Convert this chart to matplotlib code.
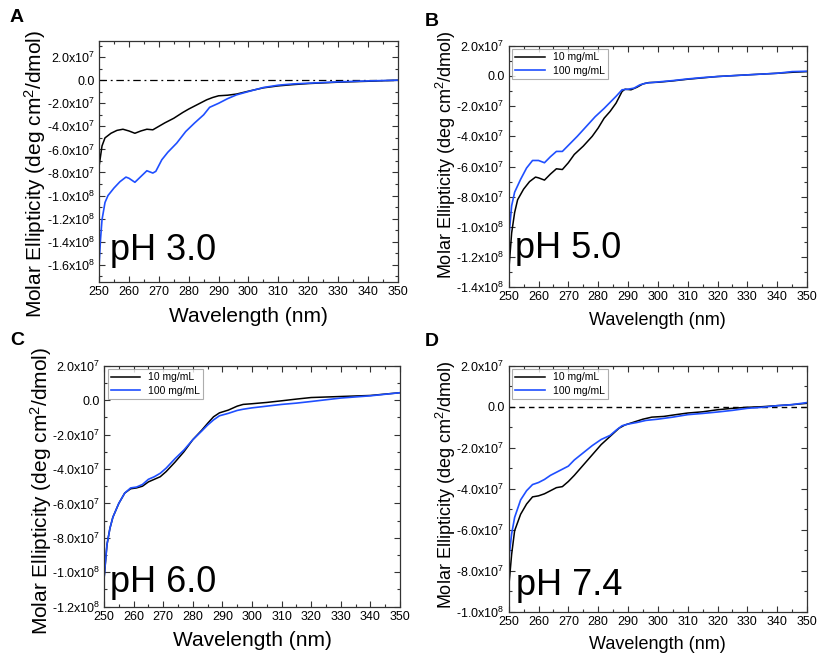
import matplotlib
matplotlib.use('Agg')
import matplotlib.pyplot as plt
from matplotlib.ticker import MultipleLocator, FuncFormatter
import numpy as np

plt.rcParams['font.family'] = ['Liberation Sans', 'DejaVu Sans']
plt.rcParams['mathtext.default'] = 'regular'

# ---- data (wavelength in nm, ellipticity in deg cm^2/dmol) ----
wl_a_10 = [250, 251, 252, 254, 256, 258, 260, 262, 264, 266, 268, 270, 272, 275, 278, 280,
           283, 286, 288, 290, 293, 296, 300, 305, 310, 315, 320, 330, 340, 350]
a_10 = [-7.5e7, -5.7e7, -5.0e7, -4.6e7, -4.35e7, -4.25e7, -4.4e7, -4.6e7, -4.4e7, -4.25e7,
        -4.3e7, -4.0e7, -3.7e7, -3.3e7, -2.8e7, -2.5e7, -2.1e7, -1.7e7, -1.5e7, -1.35e7,
        -1.3e7, -1.2e7, -9.5e6, -6.6e6, -4.9e6, -3.8e6, -2.9e6, -1.7e6, -0.9e6, 0.0]
wl_a_100 = [250, 250.5, 251, 252, 253, 255, 257, 259, 260, 262, 264, 266, 268, 269, 271, 273,
            276, 279, 282, 285, 287, 290, 293, 296, 300, 305, 310, 315, 320, 330, 340, 350]
a_100 = [-1.61e8, -1.38e8, -1.21e8, -1.06e8, -1.0e8, -9.35e7, -8.8e7, -8.4e7, -8.5e7, -8.85e7,
         -8.35e7, -7.85e7, -8.05e7, -7.9e7, -6.9e7, -6.25e7, -5.45e7, -4.45e7, -3.7e7, -3.0e7,
         -2.35e7, -2.0e7, -1.6e7, -1.27e7, -9.8e6, -6.3e6, -4.3e6, -3.2e6, -2.6e6, -1.4e6,
         -0.6e6, 0.0]

wl_b_10 = [250, 251, 252, 253, 255, 257, 259, 260, 262, 264, 266, 268, 270, 272, 275, 278,
           280, 282, 284, 286, 288, 289, 291, 293, 295, 297, 300, 305, 310, 315, 320, 330,
           340, 345, 350]
b_10 = [-1.3e8, -1.04e8, -9.05e7, -8.2e7, -7.5e7, -7.0e7, -6.7e7, -6.75e7, -6.9e7, -6.5e7,
        -6.15e7, -6.2e7, -5.75e7, -5.2e7, -4.65e7, -4.0e7, -3.45e7, -2.8e7, -2.35e7, -1.8e7,
        -1.03e7, -8.8e6, -9.2e6, -7.5e6, -5.3e6, -4.4e6, -4.2e6, -3.3e6, -2.2e6, -1.3e6,
        -0.4e6, 0.7e6, 1.75e6, 2.4e6, 2.85e6]
wl_b_100 = [250, 251, 252, 254, 256, 258, 260, 262, 264, 266, 268, 270, 273, 276, 279, 282,
            284, 286, 288, 290, 292, 294, 296, 300, 305, 310, 315, 320, 330, 340, 345, 350]
b_100 = [-1.08e8, -8.6e7, -7.7e7, -6.85e7, -6.1e7, -5.6e7, -5.6e7, -5.75e7, -5.35e7, -5.0e7,
         -5.0e7, -4.6e7, -4.0e7, -3.35e7, -2.7e7, -2.15e7, -1.75e7, -1.35e7, -9.2e6, -8.8e6,
         -8.1e6, -5.9e6, -4.8e6, -4.0e6, -3.1e6, -2.0e6, -1.1e6, -0.4e6, 0.7e6, 1.75e6,
         2.85e6, 3.1e6]

wl_c = [250, 251, 252, 253, 255, 257, 259, 261, 263, 265, 267, 269, 271, 274, 277, 280, 283,
        285, 287, 289, 292, 295, 297, 300, 305, 310, 315, 320, 330, 340, 350]
c_10 = [-1.04e8, -8.4e7, -7.45e7, -6.8e7, -6.0e7, -5.4e7, -5.15e7, -5.1e7, -5.0e7, -4.75e7,
        -4.6e7, -4.45e7, -4.15e7, -3.6e7, -3.0e7, -2.3e7, -1.75e7, -1.35e7, -9.7e6, -7.4e6,
        -5.8e6, -3.5e6, -2.5e6, -2.1e6, -1.35e6, -0.4e6, 0.6e6, 1.5e6, 2.1e6, 2.7e6, 4.3e6]
c_100 = [-1.04e8, -8.4e7, -7.45e7, -6.8e7, -6.0e7, -5.4e7, -5.1e7, -5.05e7, -4.9e7, -4.6e7,
         -4.45e7, -4.25e7, -3.95e7, -3.4e7, -2.9e7, -2.3e7, -1.8e7, -1.45e7, -1.15e7, -9.1e6,
         -7.7e6, -6.0e6, -5.3e6, -4.5e6, -3.5e6, -2.5e6, -1.75e6, -0.8e6, 1.2e6, 2.5e6, 4.3e6]

wl_d_10 = [250, 251, 252, 254, 256, 258, 260, 262, 264, 266, 268, 270, 272, 275, 278, 281,
           284, 287, 289, 292, 295, 298, 302, 306, 310, 315, 320, 325, 330, 335, 340, 345, 350]
d_10 = [-8.85e7, -7.2e7, -6.05e7, -5.25e7, -4.75e7, -4.4e7, -4.35e7, -4.25e7, -4.1e7, -3.95e7,
        -3.9e7, -3.65e7, -3.35e7, -2.85e7, -2.35e7, -1.85e7, -1.45e7, -1.05e7, -8.9e6, -7.5e6,
        -6.1e6, -5.1e6, -4.75e6, -3.9e6, -3.1e6, -2.5e6, -1.5e6, -0.8e6, -0.3e6, 0.0, 0.5e6,
        1.0e6, 1.65e6]
wl_d_100 = [250, 251, 252, 254, 256, 258, 260, 262, 264, 266, 268, 270, 272, 275, 278, 281,
            284, 286, 288, 290, 293, 296, 300, 305, 310, 315, 320, 325, 330, 335, 340, 345, 350]
d_100 = [-7.5e7, -6.2e7, -5.4e7, -4.55e7, -4.1e7, -3.8e7, -3.7e7, -3.55e7, -3.35e7, -3.2e7,
         -3.05e7, -2.9e7, -2.6e7, -2.25e7, -1.9e7, -1.6e7, -1.4e7, -1.15e7, -9.3e6, -8.5e6,
         -7.7e6, -6.7e6, -6.1e6, -5.1e6, -3.9e6, -3.3e6, -2.6e6, -1.8e6, -0.8e6, -0.3e6,
         0.5e6, 1.0e6, 2.0e6]

panel_letters = ['A', 'B', 'C', 'D']
ph_labels = ['pH 3.0', 'pH 5.0', 'pH 6.0', 'pH 7.4']
conc_labels = ['10 mg/mL', '100 mg/mL']

BLUE = '#1f4fff'
EDGE = '#333333'


def sci_fmt(v, pos):
    if abs(v) < 1:
        return '0.0'
    exp = int(np.floor(np.log10(abs(v)) + 1e-9))
    mant = v / 10 ** exp
    return '%.1fx10$^{%d}$' % (mant, exp)


def style_axes(ax, ylim, lab_size, label_x, label_y):
    ax.set_xlim(250, 350)
    ax.set_ylim(*ylim)
    ax.xaxis.set_major_locator(MultipleLocator(10))
    ax.xaxis.set_minor_locator(MultipleLocator(5))
    ax.yaxis.set_major_locator(MultipleLocator(2e7))
    ax.yaxis.set_minor_locator(MultipleLocator(1e7))
    ax.yaxis.set_major_formatter(FuncFormatter(sci_fmt))
    ax.tick_params(which='both', direction='in', top=True, right=True,
                   labelsize=9, colors=EDGE, labelcolor='black', pad=3)
    ax.tick_params(which='major', length=4, width=0.8)
    ax.tick_params(which='minor', length=2.5, width=0.8)
    for s in ax.spines.values():
        s.set_color(EDGE)
        s.set_linewidth(0.9)
    ax.set_xlabel('Wavelength (nm)', fontsize=lab_size, labelpad=6)
    ax.set_ylabel('Molar Ellipticity (deg cm$^{2}$/dmol)', fontsize=lab_size)
    ax.yaxis.set_label_coords(label_x, label_y)


fig = plt.figure(figsize=(8.17, 6.53), dpi=100)

# positions in figure fraction
ax_a = fig.add_axes([0.1212, 0.5681, 0.3659, 0.3691])
ax_b = fig.add_axes([0.6226, 0.5600, 0.3652, 0.3700])
ax_c = fig.add_axes([0.1273, 0.0709, 0.3623, 0.3691])
ax_d = fig.add_axes([0.6226, 0.0633, 0.3652, 0.3767])

# A
ax_a.axhline(0, color='black', lw=0.9, ls='-.', dashes=(6, 3, 1.5, 3))
ax_a.plot(wl_a_10, a_10, color='black', lw=1.1)
ax_a.plot(wl_a_100, a_100, color=BLUE, lw=1.2)
style_axes(ax_a, (-1.75e8, 3.4e7), 15, -0.17, 0.45)

# B
ax_b.plot(wl_b_10, b_10, color='black', lw=1.1, label=conc_labels[0])
ax_b.plot(wl_b_100, b_100, color=BLUE, lw=1.2, label=conc_labels[1])
style_axes(ax_b, (-1.4e8, 2.0e7), 13, -0.17, 0.55)

# C
ax_c.plot(wl_c, c_10, color='black', lw=1.1, label=conc_labels[0])
ax_c.plot(wl_c, c_100, color=BLUE, lw=1.2, label=conc_labels[1])
style_axes(ax_c, (-1.2e8, 2.0e7), 15, -0.17, 0.48)

# D
ax_d.axhline(0, color='black', lw=1.0, ls='--', dashes=(4, 3))
ax_d.plot(wl_d_10, d_10, color='black', lw=1.1, label=conc_labels[0])
ax_d.plot(wl_d_100, d_100, color=BLUE, lw=1.2, label=conc_labels[1])
style_axes(ax_d, (-1.0e8, 2.0e7), 13, -0.17, 0.515)

for ax in (ax_b, ax_c, ax_d):
    leg = ax.legend(loc='upper left', fontsize=7.5, frameon=True, fancybox=False,
                    handlelength=2.8, labelspacing=0.3, borderpad=0.3,
                    borderaxespad=0.35, handletextpad=0.8)
    leg.get_frame().set_edgecolor('#999999')
    leg.get_frame().set_linewidth(0.8)

ph_pos = [(0.037, 0.091), (0.022, 0.12), (0.02, 0.062), (0.025, 0.068)]
for ax, txt, (px, py) in zip((ax_a, ax_b, ax_c, ax_d), ph_labels, ph_pos):
    ax.text(px, py, txt, transform=ax.transAxes, fontsize=26, va='baseline', ha='left')

letter_pos = [(10, 18), (425, 22), (10, 340), (425, 342)]
for let, (x, y) in zip(panel_letters, letter_pos):
    fig.text(x / 817, 1 - y / 653, let, fontsize=14, fontweight='bold', va='center', ha='left')

fig.savefig('out.png', dpi=100)
